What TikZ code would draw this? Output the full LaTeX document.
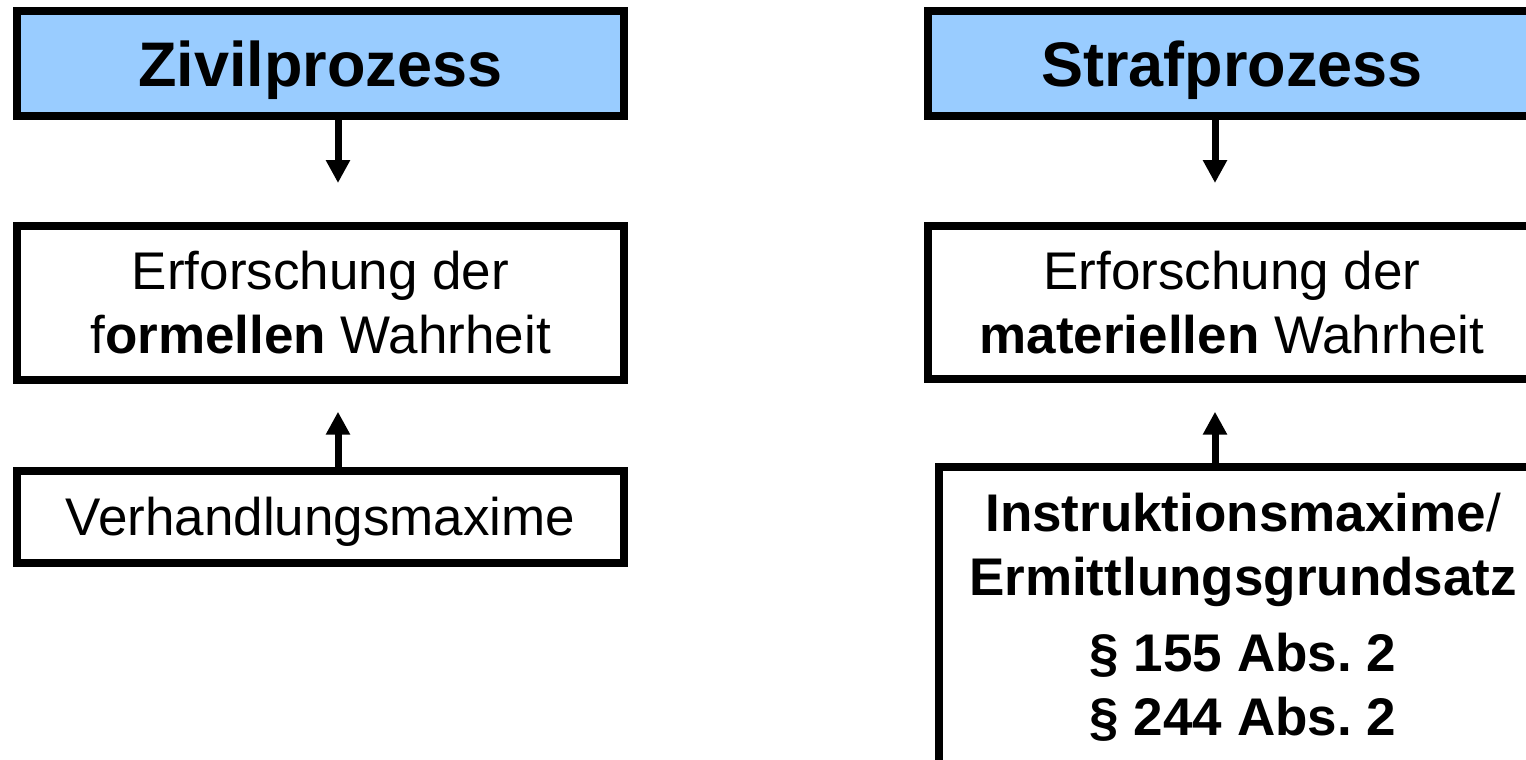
\documentclass[tikz,border=0pt]{standalone}
\usepackage{fontspec}
\setmainfont{Liberation Sans}
\usetikzlibrary{arrows.meta}
\definecolor{headblue}{RGB}{153,204,255}
\frenchspacing
\tikzset{
  box/.style={draw=black, line width=8pt, inner sep=0pt, align=center},
  headbox/.style={box, fill=headblue, text depth=0pt, font=\fontsize{63}{76}\selectfont\bfseries},
  textbox/.style={box, fill=white, font=\fontsize{53}{64}\selectfont},
  link/.style={line width=7pt, -{Triangle[width=23pt,length=23pt]}}
}
\begin{document}
\begin{tikzpicture}[x=1pt,y=-1pt]
\useasboundingbox (0,0) rectangle (1526,760);
% left column
\node[headbox, minimum width=607pt, minimum height=104pt] (zp) at (320.5,63.5) {Zivilprozess};
\node[textbox, minimum width=607pt, minimum height=154pt] (zw) at (320.5,303) {Erforschung der\\f\textbf{ormellen} Wahrheit};
\node[textbox, text depth=0pt, minimum width=607pt, minimum height=91.5pt] (vm) at (320.5,516.75) {Verhandlungsmaxime};
\coordinate (zt1) at (338,183);
\coordinate (zt2) at (338,411.7);
\draw[link] (zp.south -| zt1) -- (zt1);
\draw[link] (vm.north -| zt2) -- (zt2);
% right column
\node[headbox, minimum width=609pt, minimum height=104pt] (sp) at (1232,63.5) {Strafprozess};
\node[textbox, minimum width=609pt, minimum height=153pt] (sw) at (1232,302.5) {Erforschung der\\\textbf{materiellen} Wahrheit};
\node[textbox, minimum width=608pt, inner ysep=26pt, anchor=north] (im) at (1243,463) {\textbf{Instruktionsmaxime}/\\\textbf{Ermittlungsgrundsatz}\\[12pt]\textbf{§ 155 Abs. 2}\\\textbf{§ 244 Abs. 2}};
\coordinate (st1) at (1215,183);
\coordinate (st2) at (1215,411.7);
\draw[link] (sp.south -| st1) -- (st1);
\draw[link] (im.north -| st2) -- (st2);
\end{tikzpicture}
\end{document}
